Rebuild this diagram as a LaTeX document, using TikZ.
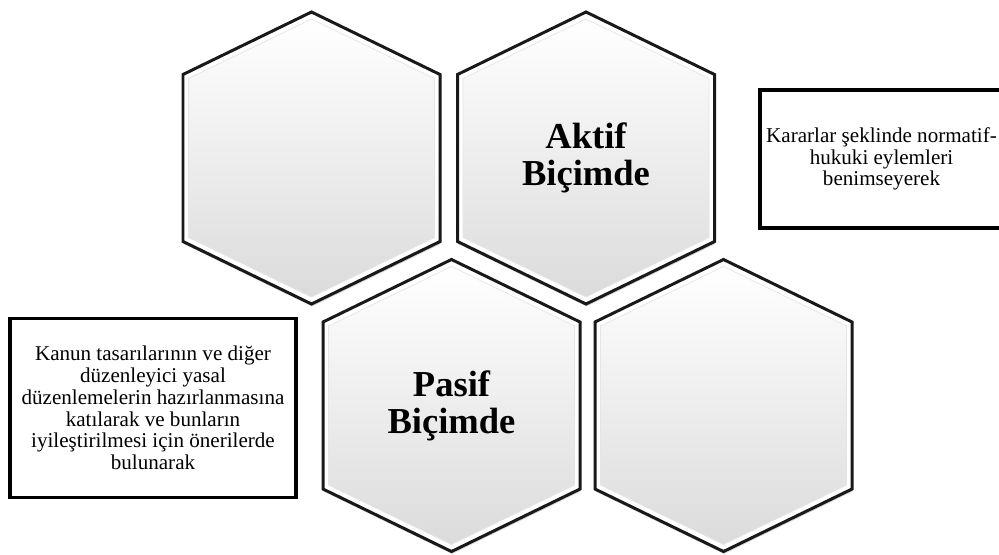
\documentclass[tikz,border=0pt]{standalone}
\usepackage{fontspec}
\setmainfont{Liberation Serif}
\usetikzlibrary{shadows}
\newcommand\hexcell[1]{(#1) ++(0,-146) -- ++(128.5,62.5) -- ++(0,167) -- ++(-128.5,62.5) -- ++(-128.5,-62.5) -- ++(0,-167) -- cycle}
\newcommand\hexinner[1]{(#1) ++(0,-139) -- ++(123,59.5) -- ++(0,159) -- ++(-123,59.5) -- ++(-123,-59.5) -- ++(0,-159) -- cycle}
\tikzset{
hexrim/.style={draw=black!90, line width=1.7pt, fill=white, drop shadow={opacity=0.35, shadow xshift=0.3pt, shadow yshift=-1.4pt}},
hexface/.style={top color=white, bottom color=black!14, draw=black!10, line width=0.4pt},
hexlabel/.style={align=center, inner sep=0pt, font=\fontsize{20.8}{21}\selectfont\bfseries},
textbox/.style={rectangle, draw=black, fill=white, line width=2pt, inner sep=0pt, align=center, font=\fontsize{12}{12.4}\selectfont, drop shadow={opacity=0.3, shadow xshift=0.3pt, shadow yshift=-1pt}},
}
\begin{document}
\begin{tikzpicture}[x=0.02cm, y=-0.02cm]
\useasboundingbox (0,0) rectangle (999,554);
\clip (0,0) rectangle (999,554);
\coordinate (h1) at (311.5,158);
\coordinate (h2) at (586,158);
\coordinate (h3) at (451.5,405.5);
\coordinate (h4) at (723.5,405.5);

% upper row
\path[hexrim] \hexcell{h1};
\path[hexface] \hexinner{h1};
\path[hexrim] \hexcell{h2};
\path[hexface] \hexinner{h2};
\node[hexlabel] at (h2) (aktif) {Aktif\\Biçimde};

% lower row
\path[hexrim] \hexcell{h3};
\path[hexface] \hexinner{h3};
\node[hexlabel] at (h3) (pasif) {Pasif\\Biçimde};
\path[hexrim] \hexcell{h4};
\path[hexface] \hexinner{h4};

\node[textbox, minimum width=4.87cm, minimum height=2.77cm] at (881.5,159) (karar) {Kararlar şeklinde normatif-\\hukuki eylemleri\\benimseyerek};
\node[textbox, minimum width=5.73cm, minimum height=3.59cm] at (153,408) (kanun) {Kanun tasarılarının ve diğer\\düzenleyici yasal\\düzenlemelerin hazırlanmasına\\katılarak ve bunların\\iyileştirilmesi için önerilerde\\bulunarak};
\end{tikzpicture}
\end{document}
